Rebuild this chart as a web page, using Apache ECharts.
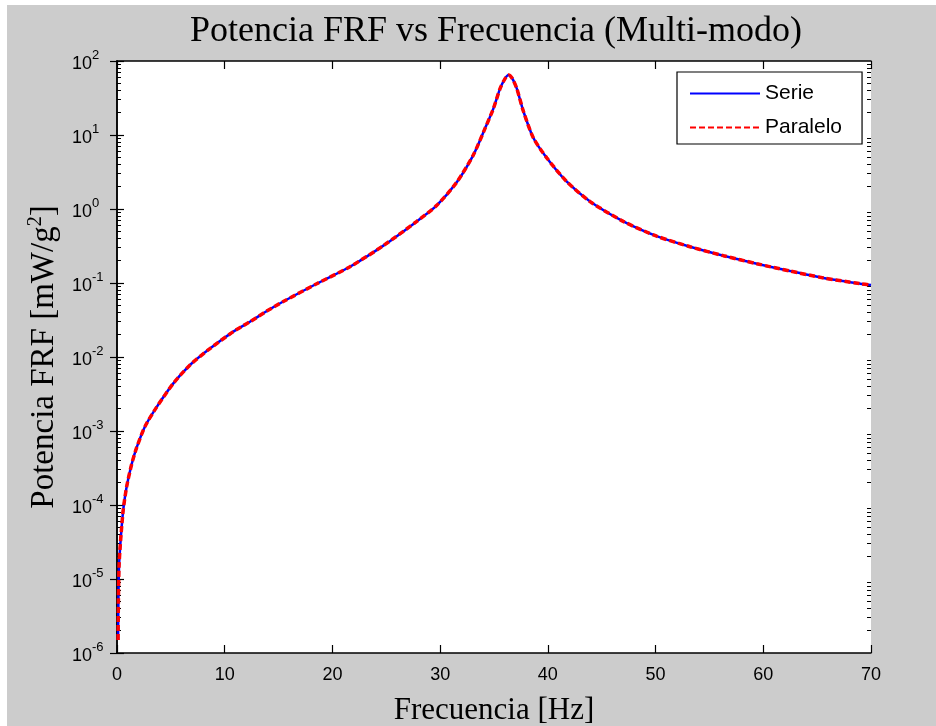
<!DOCTYPE html>
<html>
<head>
<meta charset="utf-8">
<script src="https://cdn.jsdelivr.net/npm/echarts@6/dist/echarts.min.js"></script>
<style>
  html, body { margin: 0; padding: 0; background: #fff; }
  #chart { position: absolute; left: 7px; top: 5px; width: 929px; height: 721px; }
</style>
</head>
<body>
<div id="chart"></div>
<script>
// frequency [Hz] and power FRF [mW/g^2]
const freq = [0.1, 0.13, 0.19, 0.3, 0.43, 0.59, 0.9, 1.36, 1.83, 2.6, 3.68, 5.23, 6.78, 8.63,
  10.8, 12.35, 13.9, 15.44, 18.54, 21.63, 24.73, 27.83, 29.69, 31.54, 33.09, 34.17, 34.95,
  35.57, 36.0, 36.34, 36.7, 37.11, 37.73, 38.66, 39.9, 41.76, 43.92, 47.0, 50.1, 53.2, 56.3,
  59.4, 62.5, 65.6, 69.0, 70];
const serie = [1.5e-6, 5e-6, 1.5e-5, 2.82e-5, 5.0e-5, 8.9e-5, 1.78e-4, 3.55e-4, 6.0e-4, 1.15e-3,
  2.1e-3, 4.4e-3, 7.8e-3, 1.3e-2, 2.2e-2, 3.0e-2, 4.17e-2, 5.62e-2, 9.77e-2, 0.166, 0.32, 0.68,
  1.12, 2.3, 5.4, 12.3, 22.9, 42.7, 57, 64.6, 58, 42.7, 20.9, 9.1, 4.9, 2.34, 1.26, 0.68, 0.43,
  0.309, 0.234, 0.182, 0.145, 0.117, 0.098, 0.094];
const paralelo = [1.5e-6, 5e-6, 1.5e-5, 2.82e-5, 5.0e-5, 8.9e-5, 1.78e-4, 3.55e-4, 6.0e-4, 1.15e-3,
  2.1e-3, 4.4e-3, 7.8e-3, 1.3e-2, 2.2e-2, 3.0e-2, 4.17e-2, 5.62e-2, 9.77e-2, 0.166, 0.32, 0.68,
  1.12, 2.3, 5.4, 12.3, 22.9, 42.7, 57, 64.6, 58, 42.7, 20.9, 9.1, 4.9, 2.34, 1.26, 0.68, 0.43,
  0.309, 0.234, 0.182, 0.145, 0.117, 0.098, 0.094];

const xTicks = [0, 10, 20, 30, 40, 50, 60, 70];
const yExps = [-6, -5, -4, -3, -2, -1, 0, 1, 2];
const minorMult = [2, 3, 4, 5, 6, 7, 8, 9];

const minorVals = [];
yExps.slice(0, -1).forEach(e => minorMult.forEach(m => minorVals.push(m * Math.pow(10, e))));

const sans = 'Liberation Sans, Arial, sans-serif';
const serif = 'Liberation Serif, Times New Roman, serif';

const chart = echarts.init(document.getElementById('chart'));

const baseY = {
  type: 'log', logBase: 10, min: 1e-6, max: 1e2, interval: 1,
  splitLine: { show: false },
  axisLine: { show: true, lineStyle: { color: '#000', width: 1.5 } },
  axisTick: { inside: true, length: 7, lineStyle: { color: '#000', width: 1.2 } },
  axisLabel: { show: false }
};

chart.setOption({
  backgroundColor: '#cccccc',
  animation: false,
  title: {
    text: 'Potencia FRF vs Frecuencia (Multi-modo)',
    left: 484, top: 4, textAlign: 'center',
    textStyle: { fontFamily: serif, fontSize: 36, fontWeight: 'normal', color: '#000' }
  },
  legend: {
    orient: 'vertical', left: 670, top: 67,
    backgroundColor: '#fff', borderColor: '#000', borderWidth: 1.2,
    padding: [11, 20, 6, 12], itemGap: 13, itemWidth: 70, itemHeight: 20,
    itemStyle: { opacity: 0 },
    textStyle: { fontFamily: sans, fontSize: 21, color: '#000' },
    data: ['Serie', 'Paralelo']
  },
  grid: {
    left: 110, right: 65, top: 56, bottom: 73,
    outerBoundsMode: 'none', containLabel: false,
    show: true, backgroundColor: '#fff', borderWidth: 0
  },
  xAxis: [{
    type: 'value', min: 0, max: 70, interval: 10, position: 'bottom',
    splitLine: { show: false },
    axisLine: { lineStyle: { color: '#000', width: 1.5 } },
    axisTick: { inside: true, length: 8, lineStyle: { color: '#000', width: 1.2 } },
    axisLabel: {
      margin: 13, fontFamily: sans, fontSize: 18, color: '#000',
      customValues: xTicks
    },
    name: 'Frecuencia [Hz]', nameLocation: 'middle', nameGap: 42,
    nameTextStyle: { fontFamily: serif, fontSize: 31, color: '#000' }
  }, {
    type: 'value', min: 0, max: 70, interval: 10, position: 'top',
    splitLine: { show: false },
    axisLine: { lineStyle: { color: '#000', width: 1.5 } },
    axisTick: { inside: true, length: 8, lineStyle: { color: '#000', width: 1.2 } },
    axisLabel: { show: false }
  }],
  yAxis: [
    Object.assign({}, baseY, {
      position: 'left',
      axisLabel: {
        show: true, margin: 45, align: 'left', padding: [6, 0, 0, 0],
        formatter: v => '{b|10}{s|' + Math.round(Math.log10(v)) + '}',
        rich: {
          b: { fontFamily: sans, fontSize: 18, color: '#000' },
          s: { fontFamily: sans, fontSize: 13, color: '#000', padding: [0, 0, 18, 0] }
        }
      },
      name: '{n|Potencia FRF [mW/g}{s|2}{n|]}', nameLocation: 'middle', nameGap: 49,
      nameRotate: 90,
      nameTextStyle: {
        rich: {
          n: { fontFamily: serif, fontSize: 33, color: '#000' },
          s: { fontFamily: serif, fontSize: 20, color: '#000', padding: [0, 0, 17, 0] }
        }
      }
    }),
    Object.assign({}, baseY, { position: 'right' }),
    Object.assign({}, baseY, {
      position: 'left', axisLine: { show: false },
      axisTick: { inside: true, length: 4, customValues: minorVals, lineStyle: { color: '#000', width: 1 } }
    }),
    Object.assign({}, baseY, {
      position: 'right', axisLine: { show: false },
      axisTick: { inside: true, length: 4, customValues: minorVals, lineStyle: { color: '#000', width: 1 } }
    })
  ],
  series: [{
    name: 'Serie', type: 'line', smooth: 0.25, symbol: 'none',
    xAxisIndex: 0, yAxisIndex: 0,
    lineStyle: { color: '#0000ff', width: 2.5 },
    itemStyle: { color: '#0000ff' },
    data: freq.map((f, i) => [f, serie[i]])
  }, {
    name: 'Paralelo', type: 'line', smooth: 0.25, symbol: 'none',
    xAxisIndex: 0, yAxisIndex: 0,
    lineStyle: { color: '#ff0000', width: 3.5, type: [6, 3] },
    itemStyle: { color: '#ff0000' },
    data: freq.map((f, i) => [f, paralelo[i]])
  }]
});
</script>
</body>
</html>
